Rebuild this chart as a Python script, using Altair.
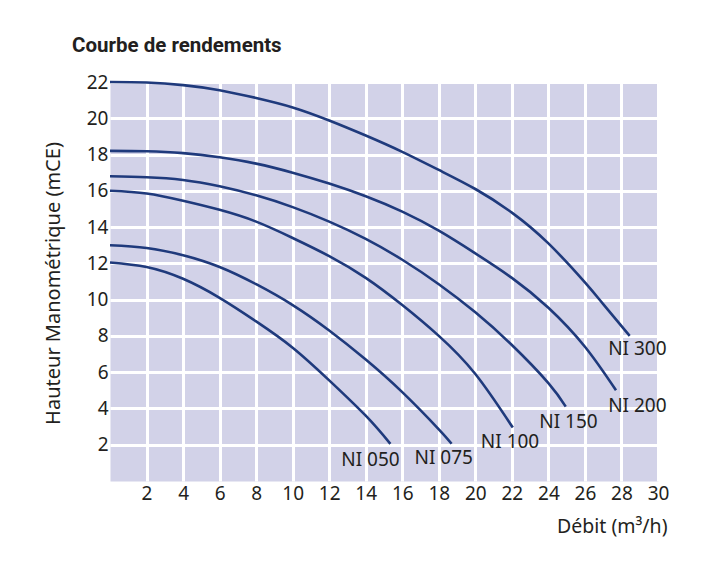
import altair as alt
import pandas as pd

# Pump performance curves: flow rate (m3/h) vs head (mCE)
pumps = ["NI 050", "NI 075", "NI 100", "NI 150", "NI 200", "NI 300"]

q_050 = [0, 2, 4, 6, 8, 10, 12, 14, 15.35]
h_050 = [12.05, 11.8, 11.15, 10.1, 8.8, 7.35, 5.55, 3.6, 2.05]

q_075 = [0, 2, 4, 6, 8, 10, 12, 14, 16, 18, 18.7]
h_075 = [13.0, 12.85, 12.45, 11.8, 10.85, 9.7, 8.3, 6.7, 4.9, 2.85, 2.05]

q_100 = [0, 2, 4, 6, 8, 10, 12, 14, 16, 18, 20, 22.05]
h_100 = [16.0, 15.85, 15.45, 14.95, 14.3, 13.4, 12.4, 11.2, 9.7, 8.0, 5.9, 2.95]

q_150 = [0, 2, 4, 6, 8, 10, 12, 14, 16, 18, 20, 22, 24, 24.95]
h_150 = [16.8, 16.75, 16.6, 16.25, 15.75, 15.1, 14.3, 13.35, 12.2, 10.85, 9.3, 7.5, 5.4, 4.1]

q_200 = [0, 2, 4, 6, 8, 10, 12, 14, 16, 18, 20, 22, 24, 26, 27.7]
h_200 = [18.2, 18.18, 18.08, 17.85, 17.5, 17.0, 16.4, 15.7, 14.85, 13.8, 12.55, 11.2, 9.55, 7.4, 5.0]

q_300 = [0, 2, 4, 6, 8, 10, 12, 14, 16, 18, 20, 22, 24, 26, 27, 28.45]
h_300 = [22.0, 21.97, 21.83, 21.55, 21.12, 20.6, 19.88, 19.05, 18.15, 17.15, 16.1, 14.8, 13.1, 10.95, 9.75, 8.0]

# Curve labels (data coordinates of the left edge of each label)
label_names = ["NI 050", "NI 075", "NI 100", "NI 150", "NI 200", "NI 300"]
label_q = [12.66, 16.67, 20.3, 23.5, 27.27, 27.27]
label_h = [1.16, 1.25, 2.17, 3.27, 4.13, 7.28]

x_ticks = list(range(2, 31, 2))
y_ticks = list(range(2, 23, 2))

rows = []
for name, qs, hs in zip(pumps, [q_050, q_075, q_100, q_150, q_200, q_300],
                        [h_050, h_075, h_100, h_150, h_200, h_300]):
    for q, h in zip(qs, hs):
        rows.append({"pump": name, "q": q, "h": h})
df = pd.DataFrame(rows)
labels_df = pd.DataFrame({"name": label_names, "q": label_q, "h": label_h})

FONT = "Noto Sans"
TEXT = "#231f20"
LINE = "#1f3a7c"

x_enc = alt.X(
    "q:Q",
    scale=alt.Scale(domain=[0, 30], nice=False, zero=False),
    axis=alt.Axis(
        values=x_ticks, tickCount=40, format="d", title="Débit (m³/h)", grid=True,
        gridColor="white", gridWidth=3, gridOpacity=1, domain=False, ticks=False,
        labelOverlap=False, labelFlush=False,
        labelFont=FONT, labelFontSize=19, labelColor=TEXT, labelPadding=3,
        titleFont=FONT, titleFontSize=19.5, titleFontWeight="normal", titleColor=TEXT,
        titleAnchor="end", titleAlign="right", titleX=557, titleY=51,
        titleBaseline="alphabetic",
    ),
)
y_enc = alt.Y(
    "h:Q",
    scale=alt.Scale(domain=[0, 22], nice=False, zero=False),
    axis=alt.Axis(
        values=y_ticks, tickCount=40, format="d", title="Hauteur Manométrique (mCE)",
        grid=True, gridColor="white", gridWidth=3, gridOpacity=1, domain=False,
        ticks=False, labelOverlap=False, labelFlush=False,
        labelFont=FONT, labelFontSize=19, labelColor=TEXT, labelPadding=2,
        titleFont=FONT, titleFontSize=20, titleFontWeight="normal", titleColor=TEXT,
        titleAngle=-90, titleX=-57, titleY=201, titleAlign="center",
        titleBaseline="middle",
    ),
)

lines = alt.Chart(df).mark_line(
    interpolate="natural", strokeWidth=2.6, color=LINE
).encode(x=x_enc, y=y_enc, detail="pump:N")

texts = alt.Chart(labels_df).mark_text(
    align="left", baseline="middle", fontSize=19, font=FONT, color=TEXT
).encode(x=x_enc, y=y_enc, text="name:N")

chart = (
    alt.layer(lines, texts)
    .properties(
        width=548,
        height=399,
        autosize=alt.AutoSizeParams(type="none"),
        padding={"left": 102, "top": 74, "right": 50, "bottom": 60},
        title=alt.TitleParams(
            "Courbe de rendements", anchor="start", frame="group", dx=-38,
            offset=17, font="Roboto", fontSize=20.5,
            fontWeight="bold", color=TEXT,
        ),
    )
    .configure(background="white")
    .configure_view(fill="#d2d2e8", stroke="transparent")
)

chart.save("out.html", embed_options={"renderer": "svg", "actions": False})
